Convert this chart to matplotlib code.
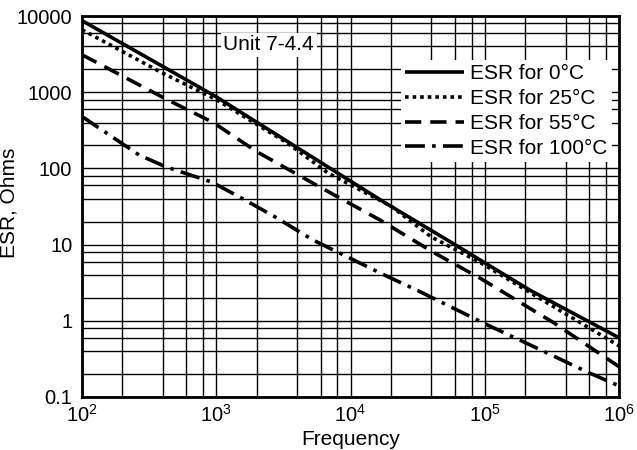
import matplotlib
matplotlib.use('Agg')
import matplotlib.pyplot as plt
from matplotlib.ticker import LogLocator, FixedLocator, FixedFormatter, NullFormatter

plt.rcParams['font.family'] = ['Liberation Sans', 'DejaVu Sans']
plt.rcParams['mathtext.default'] = 'regular'

# values (frequency in Hz, ESR in ohms)
f_0c = [100, 1000, 7400, 17800, 52500, 219000, 1e6]
esr_0c = [8700, 870, 95, 36, 11.5, 2.5, 0.6]

f_25c = [100, 380, 1000, 3400, 6800, 20000, 40000, 93000, 295000, 1e6]
esr_25c = [6600, 1860, 800, 214, 87, 32, 12.6, 5.8, 1.7, 0.47]

f_55c = [100, 430, 950, 2000, 5600, 16600, 42000, 93000, 324000, 1e6]
esr_55c = [3100, 800, 400, 166, 60, 21, 7.8, 3.6, 0.95, 0.25]

f_100c = [100, 266, 420, 930, 1660, 2750, 5250, 17800, 31600, 105000, 219000, 590000, 1e6]
esr_100c = [480, 150, 105, 66, 38, 23, 11.5, 4.0, 2.5, 0.88, 0.48, 0.21, 0.14]

ytick_vals = [0.1, 1, 10, 100, 1000, 10000]
ytick_labels = ['0.1', '1', '10', '100', '1000', '10000']
xtick_vals = [1e2, 1e3, 1e4, 1e5, 1e6]
xtick_labels = ['$10^2$', '$10^3$', '$10^4$', '$10^5$', '$10^6$']

fig = plt.figure(figsize=(6.37, 4.5), dpi=100)
ax = fig.add_axes([82 / 637, 1 - 397 / 450, (619 - 82) / 637, (397 - 16) / 450])

lw = 2.6
ax.plot(f_0c, esr_0c, color='black', lw=lw, solid_capstyle='butt', label='ESR for 0°C', zorder=3)
ax.plot(f_25c, esr_25c, color='black', lw=lw, linestyle=(0, (1.0, 1.1)), label='ESR for 25°C', zorder=3)
ax.plot(f_55c, esr_55c, color='black', lw=lw, linestyle=(0, (4.5, 2.5)), label='ESR for 55°C', zorder=3)
ax.plot(f_100c, esr_100c, color='black', lw=lw, linestyle=(0, (5.5, 2.0, 1.0, 2.0)), label='ESR for 100°C', zorder=3)

ax.set_xscale('log')
ax.set_yscale('log')
ax.set_xlim(1e2, 1e6)
ax.set_ylim(0.1, 10000)

ax.xaxis.set_major_locator(FixedLocator(xtick_vals))
ax.xaxis.set_major_formatter(FixedFormatter(xtick_labels))
ax.yaxis.set_major_locator(FixedLocator(ytick_vals))
ax.yaxis.set_major_formatter(FixedFormatter(ytick_labels))
ax.xaxis.set_minor_locator(LogLocator(base=10, subs=[2, 4, 6, 8]))
ax.yaxis.set_minor_locator(LogLocator(base=10, subs=[2, 4, 6, 8]))
ax.xaxis.set_minor_formatter(NullFormatter())
ax.yaxis.set_minor_formatter(NullFormatter())
ax.tick_params(which='both', length=0, labelsize=14.5)
ax.tick_params(axis='y', pad=7)
ax.tick_params(axis='x', pad=5)

ax.grid(which='both', color='black', lw=1.0)
ax.set_axisbelow(True)
for s in ax.spines.values():
    s.set_linewidth(2.0)

ax.set_xlabel('Frequency', fontsize=15, labelpad=3)
ax.set_ylabel('ESR, Ohms', fontsize=15)
ax.yaxis.set_label_coords((19 - 82) / 537, 0.51)

ax.text(1e2 * 10 ** ((223 - 82) / 134), 10 ** (4 - (45 - 16) / 76.2), 'Unit 7-4.4',
        fontsize=15, va='center', ha='left', zorder=4,
        bbox=dict(facecolor='white', edgecolor='none', pad=2))

leg = ax.legend(loc='upper right', bbox_to_anchor=(612 / 637, 1 - 60 / 450),
                bbox_transform=fig.transFigure, fontsize=15, frameon=True,
                handlelength=2.85, handletextpad=0.3, labelspacing=0.28,
                borderpad=0.2, borderaxespad=0)
leg.get_frame().set_facecolor('white')
leg.get_frame().set_edgecolor('none')
leg.get_frame().set_alpha(1)
leg.set_zorder(5)

fig.savefig('out.png', dpi=100)
